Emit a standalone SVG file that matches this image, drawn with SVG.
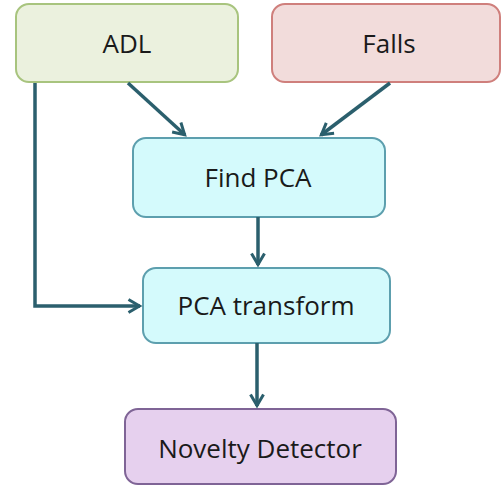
<svg xmlns="http://www.w3.org/2000/svg" width="502" height="486" viewBox="0 0 502 486">
<defs>
<marker id="ah" viewBox="0 0 16 16" refX="13.5" refY="8" markerWidth="16" markerHeight="16" markerUnits="userSpaceOnUse" orient="auto">
<path d="M2,1.5 L13,8 L2,14.5" fill="none" stroke="#2b5f6d" stroke-width="3" stroke-linejoin="miter"/>
</marker>
<style>
.box{stroke-width:2}
.t{font-family:"Open Sans","Liberation Sans",sans-serif;font-size:26px;fill:#1a1a1a;text-anchor:middle}
.c{fill:none;stroke:#2b5f6d;stroke-width:3.5;marker-end:url(#ah)}
</style>
</defs>
<rect width="502" height="486" fill="#ffffff"/>
<g id="adl"><rect class="box" x="16" y="4" width="222" height="78" rx="13" fill="#ebf1de" stroke="#a8c47e"/><text class="t" x="127" y="53">ADL</text></g>
<g id="falls"><rect class="box" x="272" y="4" width="228" height="78" rx="13" fill="#f2dcdb" stroke="#cf7f7c"/><text class="t" x="389" y="53">Falls</text></g>
<g id="findpca"><rect class="box" x="133" y="138" width="252" height="79" rx="13" fill="#d4fafc" stroke="#5d9fae"/><text class="t" x="258" y="187">Find PCA</text></g>
<g id="pcatransform"><rect class="box" x="143" y="268" width="247" height="75" rx="13" fill="#d4fafc" stroke="#5d9fae"/><text class="t" x="266" y="315">PCA transform</text></g>
<g id="novelty"><rect class="box" x="125" y="409" width="271" height="75" rx="13" fill="#e6d0ee" stroke="#7f6496"/><text class="t" x="260" y="458">Novelty Detector</text></g>
<g id="connectors">
<path class="c" d="M128,83 L185,135"/>
<path class="c" d="M390,83 L321,135"/>
<path class="c" d="M35,83 L35,306 L140,306"/>
<path class="c" d="M258,217 L258,265"/>
<path class="c" d="M257,343 L257,406"/>
</g>
</svg>
